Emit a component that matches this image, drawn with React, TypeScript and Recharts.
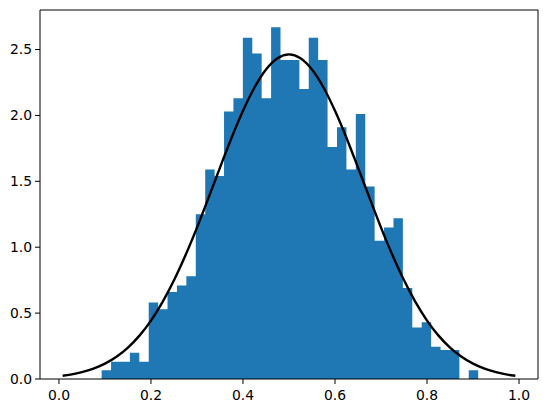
import React from "react";
import { ComposedChart, Area, Line, XAxis, YAxis, ReferenceLine } from "recharts";

// Histogram bin edges (41 edges -> 40 bins)
const binEdges = [
  0.0928, 0.1133, 0.1337, 0.1542, 0.1746, 0.1951, 0.2156, 0.2360, 0.2565, 0.2769,
  0.2974, 0.3179, 0.3383, 0.3588, 0.3792, 0.3997, 0.4202, 0.4406, 0.4611, 0.4815,
  0.5020, 0.5225, 0.5429, 0.5634, 0.5838, 0.6043, 0.6248, 0.6452, 0.6657, 0.6861,
  0.7066, 0.7271, 0.7475, 0.7680, 0.7884, 0.8089, 0.8294, 0.8498, 0.8703, 0.8907,
  0.9112,
];

// Density of each bin
const binHeights = [
  0.066, 0.13, 0.13, 0.2, 0.13, 0.58, 0.53, 0.66, 0.71, 0.78,
  1.25, 1.59, 1.54, 2.03, 2.13, 2.59, 2.47, 2.13, 2.67, 2.42,
  2.42, 2.2, 2.59, 2.42, 1.76, 1.91, 1.59, 2.01, 1.46, 1.05,
  1.15, 1.22, 0.69, 0.39, 0.43, 0.245, 0.22, 0.22, 0, 0.066,
];

// Fitted curve samples
const curveX = [
  0.008, 0.025, 0.05, 0.075, 0.1, 0.125, 0.15, 0.175, 0.2, 0.225, 0.25, 0.275,
  0.3, 0.325, 0.35, 0.375, 0.4, 0.425, 0.45, 0.475, 0.5, 0.525, 0.55, 0.575,
  0.6, 0.625, 0.65, 0.675, 0.7, 0.725, 0.75, 0.775, 0.8, 0.825, 0.85, 0.875,
  0.9, 0.925, 0.95, 0.975, 0.992,
];
const curveY = [
  0.0245, 0.0335, 0.052, 0.0789, 0.1168, 0.169, 0.2387, 0.329, 0.443, 0.583, 0.749, 0.939,
  1.149, 1.374, 1.604, 1.829, 2.035, 2.212, 2.348, 2.434, 2.463, 2.434, 2.348, 2.212,
  2.035, 1.829, 1.604, 1.374, 1.149, 0.939, 0.749, 0.583, 0.443, 0.329, 0.2387, 0.169,
  0.1168, 0.0789, 0.052, 0.0335, 0.0245,
];

const xTicks = [0, 0.2, 0.4, 0.6, 0.8, 1.0];
const yTicks = [0, 0.5, 1.0, 1.5, 2.0, 2.5];

const histData = binEdges.map((x, i) => ({
  x,
  h: i < binHeights.length ? binHeights[i] : binHeights[binHeights.length - 1],
}));
const curveData = curveX.map((x, i) => ({ x, y: curveY[i] }));

const X_DOMAIN: [number, number] = [-0.0412, 1.0412];
const Y_DOMAIN: [number, number] = [0, 2.8];
const FONT = "DejaVu Sans";
const tickStyle = { fontSize: 13.9, fill: "#000", fontFamily: FONT };

export default function App() {
  return (
    <div style={{ position: "absolute", left: 0, top: 0, width: 547, height: 413, background: "#fff" }}>
      <ComposedChart width={547} height={413} margin={{ top: 10, right: 9, bottom: 0, left: 0 }}>
        <XAxis
          dataKey="x"
          type="number"
          domain={X_DOMAIN}
          ticks={xTicks}
          tickFormatter={(v: number) => v.toFixed(1)}
          height={34}
          tickSize={5}
          tickMargin={6}
          tick={tickStyle}
          axisLine={{ stroke: "#000", strokeWidth: 1 }}
          tickLine={{ stroke: "#000", strokeWidth: 1 }}
          allowDataOverflow
        />
        <YAxis
          type="number"
          domain={Y_DOMAIN}
          ticks={yTicks}
          tickFormatter={(v: number) => v.toFixed(1)}
          width={40}
          tickSize={5}
          tickMargin={3}
          tick={tickStyle}
          axisLine={{ stroke: "#000", strokeWidth: 1 }}
          tickLine={{ stroke: "#000", strokeWidth: 1 }}
          allowDataOverflow
        />
        <Area
          data={histData}
          dataKey="h"
          type="stepAfter"
          fill="#1f77b4"
          fillOpacity={1}
          stroke="none"
          isAnimationActive={false}
          dot={false}
          activeDot={false}
        />
        <Line
          data={curveData}
          dataKey="y"
          type="monotone"
          stroke="#000"
          strokeWidth={2.4}
          dot={false}
          activeDot={false}
          isAnimationActive={false}
        />
        <ReferenceLine y={Y_DOMAIN[1]} stroke="#000" strokeWidth={1} ifOverflow="visible" />
        <ReferenceLine x={X_DOMAIN[1]} stroke="#000" strokeWidth={1} ifOverflow="visible" />
      </ComposedChart>
    </div>
  );
}
